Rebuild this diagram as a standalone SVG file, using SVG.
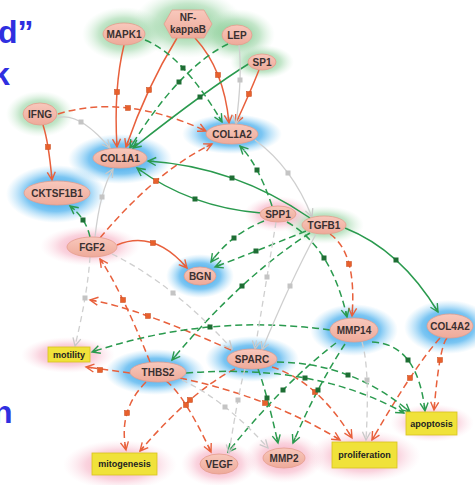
<svg xmlns="http://www.w3.org/2000/svg" width="475" height="485" viewBox="0 0 475 485">
<defs>
<radialGradient id="gBlue"><stop offset="0" stop-color="#1f97e6" stop-opacity="1"/><stop offset="0.6" stop-color="#4fb2ee" stop-opacity="0.75"/><stop offset="1" stop-color="#8fd0f5" stop-opacity="0"/></radialGradient>
<radialGradient id="gGreen"><stop offset="0" stop-color="#5cb86e" stop-opacity="0.9"/><stop offset="0.6" stop-color="#94d29f" stop-opacity="0.55"/><stop offset="1" stop-color="#c8ead0" stop-opacity="0"/></radialGradient>
<radialGradient id="gPink"><stop offset="0" stop-color="#f07ea0" stop-opacity="0.8"/><stop offset="0.6" stop-color="#f5a8be" stop-opacity="0.5"/><stop offset="1" stop-color="#fad4e0" stop-opacity="0"/></radialGradient>
<linearGradient id="nodeFill" x1="0" y1="0" x2="0" y2="1"><stop offset="0" stop-color="#f8c8bc"/><stop offset="1" stop-color="#eeaa9a"/></linearGradient>
<marker id="aR" markerUnits="userSpaceOnUse" markerWidth="12" markerHeight="12" refX="9" refY="5" orient="auto"><path d="M1,1 L9,5 L1,9 M3,5 L9,5" fill="none" stroke="#e8603c" stroke-width="1.4"/></marker>
<marker id="aG" markerUnits="userSpaceOnUse" markerWidth="12" markerHeight="12" refX="9" refY="5" orient="auto"><path d="M1,1 L9,5 L1,9 M3,5 L9,5" fill="none" stroke="#2a9a4e" stroke-width="1.4"/></marker>
<marker id="aS" markerUnits="userSpaceOnUse" markerWidth="12" markerHeight="12" refX="9" refY="5" orient="auto"><path d="M1,1 L9,5 L1,9" fill="none" stroke="#c8c8c8" stroke-width="1.3"/></marker>
<style>
.rs{fill:none;stroke:#e8603c;stroke-width:1.5;marker-end:url(#aR)}
.rd{fill:none;stroke:#e8603c;stroke-width:1.5;stroke-dasharray:7,4;marker-end:url(#aR)}
.gs{fill:none;stroke:#2a9a4e;stroke-width:1.5;marker-end:url(#aG)}
.gd{fill:none;stroke:#2a9a4e;stroke-width:1.5;stroke-dasharray:7,4;marker-end:url(#aG)}
.ss{fill:none;stroke:#cfcfcf;stroke-width:1.3;marker-end:url(#aS)}
.sd{fill:none;stroke:#cfcfcf;stroke-width:1.3;stroke-dasharray:6,4;marker-end:url(#aS)}
.mr{fill:#e8602c;stroke:#c84a1c;stroke-width:0.5}
.mg{fill:#1e6e34}
.ms{fill:#c4c4c4}
.node{fill:url(#nodeFill);stroke:#e59d8d;stroke-width:0.8}
.box{fill:#f0e23a;stroke:#d6c41e;stroke-width:0.8}
.t{font-family:"Liberation Sans",Arial,sans-serif;font-size:10px;font-weight:bold;fill:#3a3030;text-anchor:middle}
.tb{font-family:"Liberation Sans",Arial,sans-serif;font-size:9px;font-weight:bold;fill:#222;text-anchor:middle}
.big{font-family:"Liberation Sans",Arial,sans-serif;font-size:32px;font-weight:bold;fill:#2f2fe0}
</style>
</defs>
<rect width="475" height="485" fill="#ffffff"/>
<text class="big" x="-2" y="43">d”</text>
<text class="big" x="-8" y="85">k</text>
<text class="big" x="-7" y="423">n</text>
<g id="glows">
<ellipse cx="124" cy="34" rx="42" ry="27" fill="url(#gGreen)"/>
<ellipse cx="188" cy="24" rx="55" ry="34" fill="url(#gGreen)"/>
<ellipse cx="237" cy="35" rx="38" ry="26" fill="url(#gGreen)"/>
<ellipse cx="262" cy="62" rx="32" ry="17" fill="url(#gGreen)"/>
<ellipse cx="40" cy="114" rx="34" ry="23" fill="url(#gGreen)"/>
<ellipse cx="324" cy="225" rx="40" ry="19" fill="url(#gGreen)"/>
<ellipse cx="232" cy="134" rx="50" ry="20" fill="url(#gBlue)"/>
<ellipse cx="120" cy="159" rx="52" ry="25" fill="url(#gBlue)"/>
<ellipse cx="56" cy="194" rx="50" ry="29" fill="url(#gBlue)"/>
<ellipse cx="200" cy="276" rx="34" ry="22" fill="url(#gBlue)"/>
<ellipse cx="354" cy="330" rx="44" ry="26" fill="url(#gBlue)"/>
<ellipse cx="448" cy="327" rx="44" ry="27" fill="url(#gBlue)"/>
<ellipse cx="252" cy="359" rx="47" ry="23" fill="url(#gBlue)"/>
<ellipse cx="155" cy="372" rx="50" ry="23" fill="url(#gBlue)"/>
<ellipse cx="90" cy="246" rx="50" ry="20" fill="url(#gPink)"/>
<ellipse cx="278" cy="214" rx="34" ry="18" fill="url(#gPink)"/>
<ellipse cx="68" cy="355" rx="47" ry="18" fill="url(#gPink)"/>
<ellipse cx="120" cy="465" rx="57" ry="25" fill="url(#gPink)"/>
<ellipse cx="219" cy="464" rx="38" ry="23" fill="url(#gPink)"/>
<ellipse cx="284" cy="458" rx="40" ry="25" fill="url(#gPink)"/>
<ellipse cx="364" cy="456" rx="57" ry="26" fill="url(#gPink)"/>
<ellipse cx="432" cy="423" rx="42" ry="19" fill="url(#gPink)"/>
</g>
<g id="connectors">
<path class="rs" d="M124,45 Q113.5,88 117,147"/>
<path class="rs" d="M177,38 Q146.5,87.5 126,147"/>
<path class="rs" d="M195,38 Q224,69.5 229,123"/>
<path class="rs" d="M259,70 Q250.5,91.5 236,123"/>
<path class="rs" d="M117,245 Q154,229.5 187,268"/>
<path class="rs" d="M43,125 Q48.5,141.5 52,180"/>
<path class="rd" d="M58,114 Q124,93.5 206,131"/>
<path class="rd" d="M100,238 Q156,171 212,144"/>
<path class="rd" d="M150,362 Q121,289.5 100,259"/>
<path class="rd" d="M231,350 Q135.5,307 90,300"/>
<path class="rd" d="M130,373 L86,367"/>
<path class="rd" d="M146,382 Q118,410 126,450"/>
<path class="rd" d="M235,369 Q192.5,390 140,451"/>
<path class="rd" d="M166,381 Q183.5,393.5 211,452"/>
<path class="rd" d="M180,378 Q270,397 340,440"/>
<path class="rd" d="M272,367 Q318,381.5 352,438"/>
<path class="rd" d="M440,338 Q414,367 372,440"/>
<path class="rd" d="M447,338 Q439.5,346 434,410"/>
<path class="rd" d="M330,234 Q357,253 352,316"/>
<path class="gs" d="M250,63 Q208.5,88.5 133,148"/>
<path class="gs" d="M310,218 Q235,166.5 148,161"/>
<path class="gs" d="M261,213 Q191,207.5 137,168"/>
<path class="gs" d="M345,228 Q400.5,250 438,312"/>
<path class="gd" d="M145,40 Q182.5,55 222,122"/>
<path class="gd" d="M228,44 Q179,68 130,148"/>
<path class="gd" d="M90,237 Q86,218.5 70,206"/>
<path class="gd" d="M272,206 Q258,164 240,146"/>
<path class="gd" d="M264,221 Q230.5,234.5 211,262"/>
<path class="gd" d="M306,231 Q251.5,253 215,267"/>
<path class="gd" d="M310,233 Q243,275.5 172,360"/>
<path class="gd" d="M287,222 Q331,246.5 347,317"/>
<path class="gd" d="M330,330 Q209,313 92,352"/>
<path class="gd" d="M372,342 Q417.5,343.5 425,411"/>
<path class="gd" d="M277,362 Q352.5,363 410,412"/>
<path class="gd" d="M186,373 Q315,363 404,413"/>
<path class="gd" d="M336,343 Q284,382.5 228,452"/>
<path class="gd" d="M345,344 Q317,386.5 293,443"/>
<path class="gd" d="M258,369 Q266,390 278,443"/>
<path class="ss" d="M239,45 Q242.5,75.5 236,124"/>
<path class="ss" d="M57,118 Q78.5,111 110,148"/>
<path class="ss" d="M95,237 Q100,191 113,169"/>
<path class="sd" d="M90,257 Q87.5,294.5 75,346"/>
<path class="sd" d="M112,254 Q174,284.5 232,349"/>
<path class="ss" d="M255,140 Q292.5,167.5 312,217"/>
<path class="ss" d="M316,234 Q291,280 262,350"/>
<path class="sd" d="M276,222 Q268.5,268.5 255,349"/>
<path class="sd" d="M245,369 Q239,389 229,453"/>
<path class="sd" d="M182,380 Q225,400 268,448"/>
<path class="sd" d="M362,342 Q370,369 366,440"/>
<g class="mr">
<rect x="114.5" y="89.5" width="5" height="5"/><rect x="146.5" y="87.5" width="5" height="5"/><rect x="215.5" y="72.5" width="5" height="5"/><rect x="246.5" y="91.5" width="5" height="5"/>
<rect x="150.5" y="240.5" width="5" height="5"/><rect x="45.5" y="144.5" width="5" height="5"/><rect x="125.5" y="105.5" width="5" height="5"/><rect x="153.5" y="178.5" width="5" height="5"/>
<rect x="120.5" y="297.5" width="5" height="5"/><rect x="145.5" y="313.5" width="5" height="5"/><rect x="97.5" y="367.5" width="5" height="5"/><rect x="124.5" y="410.5" width="5" height="5"/>
<rect x="187.5" y="397.5" width="5" height="5"/><rect x="183.5" y="402.5" width="5" height="5"/><rect x="262.5" y="400.5" width="5" height="5"/><rect x="312.5" y="389.5" width="5" height="5"/>
<rect x="407.5" y="375.5" width="5" height="5"/><rect x="437.5" y="357.5" width="5" height="5"/><rect x="346.5" y="261.5" width="5" height="5"/>
</g>
<g class="mg">
<rect x="197.5" y="94.5" width="5" height="5"/><rect x="229.5" y="175.5" width="5" height="5"/><rect x="192.5" y="196.5" width="5" height="5"/><rect x="393.5" y="257.5" width="5" height="5"/>
<rect x="180.5" y="65.5" width="5" height="5"/><rect x="176.5" y="79.5" width="5" height="5"/><rect x="80.5" y="217.5" width="5" height="5"/><rect x="254.5" y="167.5" width="5" height="5"/>
<rect x="231.5" y="235.5" width="5" height="5"/><rect x="253.5" y="248.5" width="5" height="5"/><rect x="239.5" y="283.5" width="5" height="5"/><rect x="321.5" y="255.5" width="5" height="5"/>
<rect x="207.5" y="324.5" width="5" height="5"/><rect x="405.5" y="357.5" width="5" height="5"/><rect x="345.5" y="372.5" width="5" height="5"/><rect x="302.5" y="375.5" width="5" height="5"/>
<rect x="280.5" y="387.5" width="5" height="5"/><rect x="315.5" y="387.5" width="5" height="5"/><rect x="264.5" y="395.5" width="5" height="5"/>
</g>
<g class="ms">
<rect x="237.5" y="77.5" width="5" height="5"/><rect x="78.5" y="119.5" width="5" height="5"/><rect x="99.5" y="194.5" width="5" height="5"/><rect x="82.5" y="295.5" width="5" height="5"/>
<rect x="170.5" y="290.5" width="5" height="5"/><rect x="285.5" y="170.5" width="5" height="5"/><rect x="287.5" y="283.5" width="5" height="5"/><rect x="264.5" y="274.5" width="5" height="5"/>
<rect x="235.5" y="397.5" width="5" height="5"/><rect x="222.5" y="404.5" width="5" height="5"/><rect x="364.5" y="377.5" width="5" height="5"/>
</g>
</g>
<g id="MAPK1"><ellipse class="node" cx="124" cy="34" rx="21" ry="11"/><text class="t" x="124" y="38">MAPK1</text></g>
<g id="NF-kappaB"><polygon class="node" points="164,24 172,10 204,10 212,24 204,38 172,38"/><text class="t" x="188" y="21">NF-</text><text class="t" x="188" y="33">kappaB</text></g>
<g id="LEP"><ellipse class="node" cx="237" cy="35" rx="15" ry="10"/><text class="t" x="237" y="39">LEP</text></g>
<g id="SP1"><ellipse class="node" cx="262" cy="62" rx="14" ry="8"/><text class="t" x="262" y="66">SP1</text></g>
<g id="IFNG"><ellipse class="node" cx="40" cy="114" rx="17" ry="11"/><text class="t" x="40" y="118">IFNG</text></g>
<g id="COL1A2"><ellipse class="node" cx="232" cy="134" rx="26" ry="10"/><text class="t" x="232" y="138">COL1A2</text></g>
<g id="COL1A1"><ellipse class="node" cx="120" cy="158" rx="27" ry="10"/><text class="t" x="120" y="162">COL1A1</text></g>
<g id="CKTSF1B1"><ellipse class="node" cx="57" cy="193" rx="33" ry="12"/><text class="t" x="57" y="197">CKTSF1B1</text></g>
<g id="FGF2"><ellipse class="node" cx="92" cy="247" rx="25" ry="10"/><text class="t" x="92" y="251">FGF2</text></g>
<g id="SPP1"><ellipse class="node" cx="278" cy="214" rx="18" ry="8"/><text class="t" x="278" y="218">SPP1</text></g>
<g id="TGFB1"><ellipse class="node" cx="324" cy="225" rx="22" ry="9"/><text class="t" x="324" y="229">TGFB1</text></g>
<g id="BGN"><ellipse class="node" cx="200" cy="276" rx="16" ry="9"/><text class="t" x="200" y="280">BGN</text></g>
<g id="MMP14"><ellipse class="node" cx="354" cy="330" rx="24" ry="12"/><text class="t" x="354" y="334">MMP14</text></g>
<g id="COL4A2"><ellipse class="node" cx="450" cy="326" rx="23" ry="12"/><text class="t" x="450" y="330">COL4A2</text></g>
<g id="SPARC"><ellipse class="node" cx="252" cy="359" rx="25" ry="10"/><text class="t" x="252" y="363">SPARC</text></g>
<g id="THBS2"><ellipse class="node" cx="158" cy="372" rx="28" ry="10"/><text class="t" x="158" y="376">THBS2</text></g>
<g id="VEGF"><ellipse class="node" cx="219" cy="464" rx="19" ry="10"/><text class="t" x="219" y="468">VEGF</text></g>
<g id="MMP2"><ellipse class="node" cx="284" cy="458" rx="21" ry="10"/><text class="t" x="284" y="462">MMP2</text></g>
<g id="motility"><rect class="box" x="48" y="347" width="42" height="15"/><text class="tb" x="69" y="358">motility</text></g>
<g id="mitogenesis"><rect class="box" x="92" y="453" width="65" height="22"/><text class="tb" x="124.5" y="467">mitogenesis</text></g>
<g id="proliferation"><rect class="box" x="332" y="442" width="65" height="26"/><text class="tb" x="364.5" y="458">proliferation</text></g>
<g id="apoptosis"><rect class="box" x="406" y="412" width="51" height="23"/><text class="tb" x="431.5" y="427">apoptosis</text></g>
</svg>
